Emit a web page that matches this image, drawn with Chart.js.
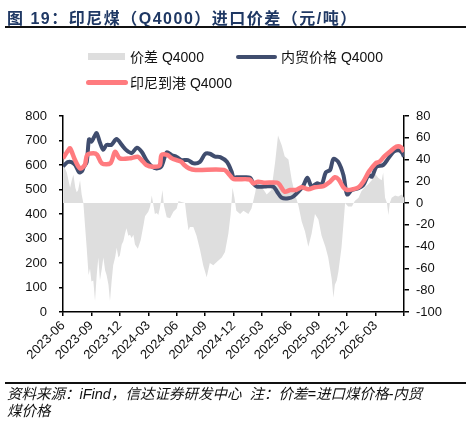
<!DOCTYPE html>
<html>
<head>
<meta charset="utf-8">
<script src="https://cdn.jsdelivr.net/npm/chart.js@4"></script>
<style>
  body { margin: 0; background: #fff; font-family: "Liberation Sans", "Noto Sans CJK SC", sans-serif; }
  #wrap { position: relative; width: 471px; height: 429px; overflow: hidden; }
  #box { position: absolute; left: 0; top: 0; width: 471px; height: 429px; }
  .title { position: absolute; left: 7px; top: 5px; font-size: 16px; font-weight: bold; color: #1f3864; letter-spacing: 1.5px; white-space: nowrap; font-family: "Liberation Sans", "Noto Sans CJK SC", sans-serif; }
  .rule { position: absolute; left: 5px; width: 461px; height: 2px; background: #111; }
  .lg { position: absolute; font-size: 14px; color: #111; white-space: nowrap; line-height: 16px; }
  .sw { position: absolute; }
  .foot { position: absolute; left: 7px; top: 386px; font-size: 14.5px; line-height: 17px; font-style: italic; color: #111; white-space: nowrap; }
</style>
</head>
<body>
<div id="wrap">
  <div id="box"><canvas id="chart"></canvas></div>
  <div class="title">图 19：印尼煤（Q4000）进口价差（元/吨）</div>
  <div class="rule" style="top:26px"></div>

  <div class="sw" style="left:88px;top:53px;width:37px;height:7px;background:#dedede"></div>
  <div class="lg" style="left:130px;top:49px">价差 Q4000</div>
  <div class="sw" style="left:236px;top:55px;width:41px;height:4px;border-radius:2px;background:#404d6e"></div>
  <div class="lg" style="left:281px;top:49px">内贸价格 Q4000</div>
  <div class="sw" style="left:86px;top:80px;width:42px;height:5px;border-radius:3px;background:#ff7b7f"></div>
  <div class="lg" style="left:130px;top:75px">印尼到港 Q4000</div>

  <div class="rule" style="top:382px"></div>
  <div class="foot">资料来源：iFind，信达证券研发中心&nbsp; 注：价差=进口煤价格-内贸<br>煤价格</div>
</div>
<script>
// x = months since 2023-06
const tickLabels = ['2023-06', '2023-09', '2023-12', '2024-03', '2024-06', '2024-09', '2024-12',
                    '2025-03', '2025-06', '2025-09', '2025-12', '2026-03'];

// 内贸价格 Q4000 (left axis)
const domMonths = [0, 0.5, 0.9, 1.3, 1.7, 2.0, 2.2, 2.5, 2.75, 3.0, 3.3, 3.55, 3.9, 4.25, 4.6, 5.1, 5.65, 6.2, 6.7, 7.25,
  7.8, 8.3, 8.8, 9.4, 9.9, 10.4, 10.95, 11.5, 12.0, 12.5, 13.2, 13.75, 14.45, 15.0, 15.5, 16.05, 16.6, 17.3, 17.8, 18.0,
  18.3, 19.0, 19.75, 20.1, 20.45, 21.3, 22.2, 22.6, 23.1, 23.8, 24.3, 24.85, 25.4, 25.8, 26.25, 26.8, 27.3, 27.75, 28.2,
  28.55, 29.05, 29.6, 30.0, 30.5, 31.2, 31.7, 32.25, 32.6, 33.1, 33.8, 34.35, 34.9, 35.4, 35.75, 36.0];
const domValues = [595, 612, 612, 600, 570, 575, 593, 612, 705, 695, 715, 730, 692, 662, 682, 682, 706, 682, 660, 649,
  670, 654, 620, 593, 586, 595, 652, 640, 633, 620, 620, 607, 613, 645, 646, 634, 632, 613, 573, 548,
  550, 550, 548, 525, 512, 512, 512, 491, 466, 464, 471, 491, 518, 548, 512, 525, 520, 570, 580,
  625, 613, 559, 480, 498, 505, 518, 559, 552, 593, 600, 627, 654, 660, 652, 634];

// 印尼到港 Q4000 (left axis)
const impMonths = [0, 0.55, 0.75, 1.27, 1.8, 2.3, 2.55, 3.2, 3.6, 4.1, 5.0, 5.5, 6.0, 7.0, 7.9, 8.3, 8.8, 9.5, 10.2, 10.4,
  11.0, 11.5, 12.0, 12.5, 12.8, 13.3, 14.0, 17.0, 17.6, 18.0, 19.7, 20.1, 20.6, 21.2, 22.6, 22.9, 23.4, 24.0, 24.6,
  25.2, 25.9, 26.6, 27.5, 28.2, 28.7, 29.1, 29.6, 30.0, 30.6, 31.2, 31.7, 32.3, 33.0, 33.4, 33.9, 34.5, 35.2, 35.7, 36.0];
const impValues = [627, 660, 668, 620, 586, 600, 641, 648, 642, 607, 607, 654, 627, 627, 634, 620, 600, 593, 598, 641,
  641, 627, 620, 613, 600, 586, 580, 580, 559, 543, 541, 525, 532, 528, 528, 518, 491, 498, 498,
  509, 501, 509, 514, 532, 550, 541, 509, 498, 501, 509, 532, 573, 607, 613, 634, 654, 675, 672, 654];

// 价差 Q4000 (right axis)
const spreadMonths = [0, 0.2, 0.4, 0.6, 0.75, 0.95, 1.1, 1.3, 1.45, 1.6, 1.8, 1.97, 2.15, 2.32, 2.5, 2.7, 2.85, 3.0, 3.2,
  3.38, 3.56, 3.73, 3.9, 4.1, 4.26, 4.45, 4.6, 4.8, 4.96, 5.14, 5.3, 5.5, 5.67, 5.85, 6.0, 6.2, 6.37, 6.55, 6.7, 6.9,
  7.07, 7.25, 7.43, 7.6, 7.9, 8.2, 8.5, 8.66, 9.0, 9.2, 9.37, 9.55, 9.7, 9.9, 10.06, 10.24, 10.5, 10.65, 10.95, 11.3,
  11.65, 12.0, 12.2, 12.5, 12.88, 13.06, 13.25, 13.4, 13.76, 14.1, 14.47, 14.8, 15.17, 15.5, 15.87, 16.23, 16.76, 17.1,
  17.46, 17.7, 17.9, 18.1, 18.3, 18.7, 19.05, 19.57, 19.9, 20.3, 20.5, 20.8, 21.2, 21.5, 22.0, 22.4, 22.7, 23.1, 23.4,
  23.8, 24.15, 24.5, 24.85, 25.2, 25.55, 25.9, 26.25, 26.6, 26.96, 27.3, 27.7, 28.0, 28.37, 28.55, 28.7, 28.9, 29.07,
  29.4, 29.6, 29.78, 30.1, 30.5, 30.8, 31.2, 31.5, 31.9, 32.2, 32.6, 32.95, 33.3, 33.65, 33.8, 34.0, 34.2, 34.35, 34.5,
  34.7, 35.06, 35.4, 35.77, 36.0];
const spreadValues = [35, 32, 28, 20, 14, 22, 26, 14, 10, 12, 21, 8, 0, -20, -41, -66, -60, -72, -71,
  -90, -66, -50, -71, -60, -50, -62, -66, -75, -90, -71, -57, -50, -41, -50, -48, -38, -35, -28, -23, -30,
  -29, -32, -29, -38, -42, -34, -20, -12, -8, -3, 7, -2, -10, -9, -11, -4, 12, -2, -13, -14,
  -8, -5, 2, 1, 0, -13, -25, -22, -22, -30, -43, -57, -68, -55, -57, -54, -50, -45,
  -28, -10, 14, 5, -7, -10, -7, -10, -5, 10, 21, 15, 12, 8, 12, 38, 62, 53, 43,
  40, 21, 8, -2, -17, -26, -40, -28, -10, -15, -30, -40, -50, -70, -87, -75, -71, -63,
  -41, -20, 0, -3, -3, 2, 5, 11, 15, 17, 21, 27, 23, 21, 28, 5, 0, -11, 0,
  5, 7, 6, 8, 5];

const pts = (xs, ys) => xs.map((x, i) => ({ x: x, y: ys[i] }));

const font = { family: '"Liberation Sans", "Noto Sans CJK SC", sans-serif', size: 13 };

new Chart(document.getElementById('chart'), {
  type: 'line',
  data: {
    datasets: [
      {
        label: '印尼到港 Q4000',
        data: pts(impMonths, impValues),
        yAxisID: 'y',
        borderColor: '#ff7b7f',
        borderWidth: 4.5,
        pointRadius: 0,
        tension: 0.3,
        order: 0
      },
      {
        label: '内贸价格 Q4000',
        data: pts(domMonths, domValues),
        yAxisID: 'y',
        borderColor: '#404d6e',
        borderWidth: 4,
        pointRadius: 0,
        tension: 0.3,
        order: 1
      },
      {
        label: '价差 Q4000',
        data: pts(spreadMonths, spreadValues),
        yAxisID: 'y2',
        borderWidth: 0,
        borderColor: 'rgba(0,0,0,0)',
        backgroundColor: '#dedede',
        fill: 'origin',
        pointRadius: 0,
        tension: 0,
        order: 2
      }
    ]
  },
  options: {
    responsive: true,
    maintainAspectRatio: false,
    animation: false,
    layout: { padding: { left: 0, right: 0, top: 116, bottom: 57 } },
    plugins: { legend: { display: false }, tooltip: { enabled: false } },
    scales: {
      x: {
        type: 'linear',
        min: 0,
        max: 36,
        afterFit: s => { s.height = 60; },
        grid: { drawOnChartArea: false, color: '#000', tickLength: 4, lineWidth: 1.5 },
        border: { color: '#000', width: 1.5 },
        ticks: {
          stepSize: 3,
          autoSkip: false,
          maxRotation: 45,
          minRotation: 45,
          color: '#111',
          font: font,
          padding: 2,
          callback: v => tickLabels[v / 3] || ''
        }
      },
      y: {
        position: 'left',
        min: 0,
        max: 800,
        afterFit: s => { s.width = 63; },
        grid: { drawOnChartArea: false, color: '#000', tickLength: 4, lineWidth: 1.5 },
        border: { color: '#000', width: 1.5 },
        ticks: { stepSize: 100, color: '#111', font: font, padding: 12 }
      },
      y2: {
        position: 'right',
        min: -100,
        max: 80,
        afterFit: s => { s.width = 67; },
        grid: { drawOnChartArea: false, color: '#000', tickLength: 5, lineWidth: 1.5 },
        border: { color: '#000', width: 1.5 },
        ticks: { stepSize: 20, color: '#111', font: font, padding: 7 }
      }
    }
  }
});
</script>
</body>
</html>
